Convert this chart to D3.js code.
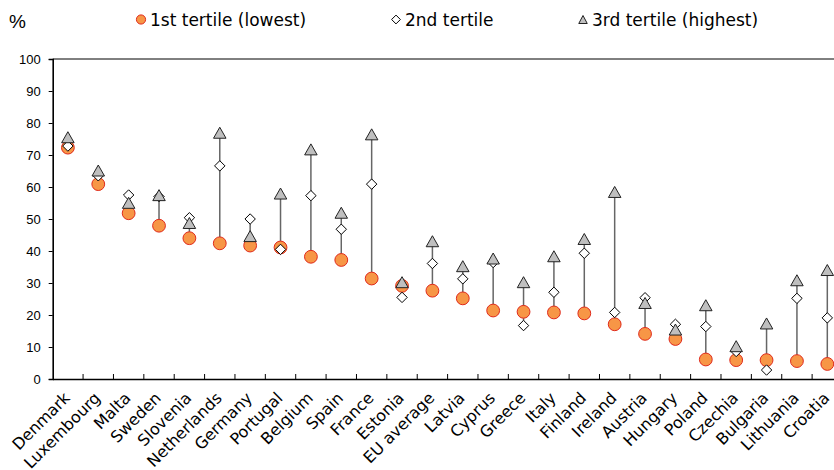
<!DOCTYPE html>
<html><head><meta charset="utf-8">
<script src="https://cdn.jsdelivr.net/npm/d3@7/dist/d3.min.js"></script>
<style>body{margin:0;background:#fff}svg{display:block}</style>
</head><body>
<svg id="c" width="834" height="470"></svg>
<script>
const countries = ["Denmark","Luxembourg","Malta","Sweden","Slovenia","Netherlands","Germany","Portugal","Belgium","Spain","France","Estonia","EU average","Latvia","Cyprus","Greece","Italy","Finland","Ireland","Austria","Hungary","Poland","Czechia","Bulgaria","Lithuania","Croatia"];
const tertile1 = [72.3,60.9,51.8,47.9,44.0,42.4,41.7,41.1,38.2,37.2,31.4,29.1,27.6,25.2,21.4,21.0,20.8,20.5,17.1,14.1,12.5,6.1,5.9,5.9,5.6,4.7];
const tertile2 = [72.8,63.5,57.5,57.0,50.4,66.6,50.0,40.5,57.3,46.8,60.9,25.5,36.1,31.3,36.4,16.7,27.1,39.3,20.8,25.4,17.1,16.4,8.6,2.8,25.2,19.1];
const tertile3 = [75.4,65.0,54.9,57.3,48.6,76.8,44.5,57.8,71.6,51.8,76.3,30.1,42.9,35.1,37.5,30.1,38.2,43.6,58.3,23.6,15.3,22.9,10.1,17.2,30.7,33.9];
const yTicks = [0,10,20,30,40,50,60,70,80,90,100];
const legendLabels = ["1st tertile (lowest)","2nd tertile","3rd tertile (highest)"];

const svg = d3.select("#c");
const L = 52.7, R = 842.5, T = 59, B = 379;
const x = d3.scaleBand().domain(countries).range([L, R]);
const y = d3.scaleLinear().domain([0,100]).range([B, T]);

// top line at 100
svg.append("line").attr("x1",L).attr("x2",834).attr("y1",y(100)).attr("y2",y(100))
  .attr("stroke","#000").attr("stroke-width",1);

// y axis
const ya = svg.append("g").attr("transform",`translate(${L},0)`)
  .call(d3.axisLeft(y).tickValues(yTicks).tickSize(4).tickPadding(8));
ya.select(".domain").attr("stroke","#000").attr("stroke-width",1.6);
ya.selectAll(".tick line").attr("stroke","#000").attr("stroke-width",1);
ya.selectAll("text").attr("font-family","'Liberation Sans Narrow','Liberation Sans',Arial,sans-serif")
  .attr("font-size",13).attr("fill","#000");

// x axis
const xa = svg.append("g").attr("transform",`translate(0,${B})`)
  .call(d3.axisBottom(x).tickSize(0).tickFormat(""));
xa.select(".domain").attr("stroke","#000").attr("stroke-width",1.6);
const bounds = countries.slice(1).map(c => x(c));
svg.append("g").selectAll("line").data(bounds).join("line")
  .attr("x1",d=>d).attr("x2",d=>d).attr("y1",B).attr("y2",B-5)
  .attr("stroke","#000").attr("stroke-width",1);

// x labels
svg.append("g").selectAll("text").data(countries).join("text")
  .attr("transform",d=>`translate(${x(d)+x.bandwidth()/2+3},${B+20}) rotate(-45)`)
  .attr("text-anchor","end")
  .attr("font-family","'DejaVu Sans',Verdana,sans-serif")
  .attr("font-size",16).attr("fill","#000")
  .text(d=>d);

const cx = i => x(countries[i]) + x.bandwidth()/2;

// connecting lines
svg.append("g").selectAll("line").data(countries).join("line")
  .attr("x1",(d,i)=>cx(i)).attr("x2",(d,i)=>cx(i))
  .attr("y1",(d,i)=>y(Math.min(tertile1[i],tertile2[i],tertile3[i])))
  .attr("y2",(d,i)=>y(Math.max(tertile1[i],tertile2[i],tertile3[i])))
  .attr("stroke","#666").attr("stroke-width",1.5);

// circles
svg.append("g").selectAll("circle").data(tertile1).join("circle")
  .attr("cx",(d,i)=>cx(i)).attr("cy",d=>y(d)).attr("r",6.4)
  .attr("fill","#F79646").attr("stroke","#E02A1C").attr("stroke-width",1);
// diamonds
const diamond = s => `M0,${-s}L${s},0L0,${s}L${-s},0Z`;
svg.append("g").selectAll("path").data(tertile2).join("path")
  .attr("transform",(d,i)=>`translate(${cx(i)},${y(d)})`)
  .attr("d",diamond(5.2))
  .attr("fill","#fff").attr("stroke","#000").attr("stroke-width",1);
// triangles
const tri = (w,h) => `M0,${-h/2-0.5}L${w/2},${h/2-0.5}L${-w/2},${h/2-0.5}Z`;
svg.append("g").selectAll("path").data(tertile3).join("path")
  .attr("transform",(d,i)=>`translate(${cx(i)},${y(d)})`)
  .attr("d",tri(12.5,11))
  .attr("fill","#BFBFBF").attr("stroke","#222").attr("stroke-width",1);

// % label
svg.append("text").attr("x",9).attr("y",28).text("%")
  .attr("font-family","'Liberation Sans Narrow','Liberation Sans',Arial,sans-serif")
  .attr("font-size",19).attr("fill","#000");

// legend
const lg = svg.append("g");
const lx = [141,396,583];
const ly = 19.5;
lg.append("circle").attr("cx",lx[0]).attr("cy",ly).attr("r",4.6)
  .attr("fill","#F79646").attr("stroke","#E02A1C").attr("stroke-width",1);
lg.append("path").attr("transform",`translate(${lx[1]},${ly})`).attr("d",diamond(4.4))
  .attr("fill","#fff").attr("stroke","#000").attr("stroke-width",1);
lg.append("path").attr("transform",`translate(${lx[2]},${ly+0.5})`).attr("d",tri(8.5,8))
  .attr("fill","#BFBFBF").attr("stroke","#222").attr("stroke-width",1);
lg.selectAll("text").data(legendLabels).join("text")
  .attr("x",(d,i)=>lx[i]+9).attr("y",25.5)
  .attr("font-family","'DejaVu Sans',Verdana,sans-serif")
  .attr("font-size",17).attr("fill","#000")
  .text(d=>d);
</script>
</body></html>
